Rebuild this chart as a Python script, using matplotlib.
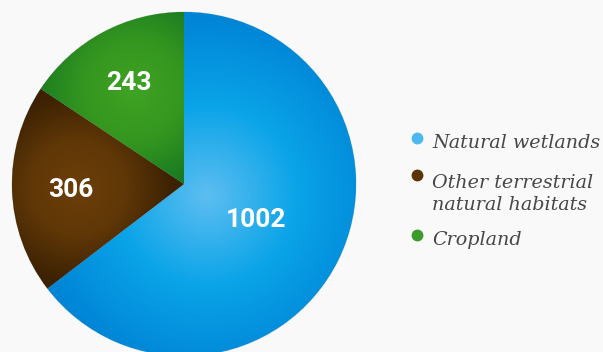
import numpy as np
import matplotlib
matplotlib.use("Agg")
import matplotlib.pyplot as plt
from matplotlib.colors import LinearSegmentedColormap
from matplotlib.lines import Line2D

categories = ["Natural wetlands", "Other terrestrial\nnatural habitats", "Cropland"]
values = [1002, 306, 243]
value_labels = ["1002", "306", "243"]

base_colors = ["#1fa6ea", "#5e3507", "#2f8f22"]
legend_colors = ["#4db8ee", "#5a3306", "#3a9a2a"]
grad_stops = [
    ["#5dbef1", "#0aa4e8", "#0084d6"],
    ["#6c3f08", "#603707", "#3c2203"],
    ["#3fa323", "#34961f", "#177822"],
]
grad_center_r = [0.15, 0.62, 0.62]
grad_radius = [1.05, 0.55, 0.6]
label_r = [0.47, 0.66, 0.68]
label_dy = [0.0, -0.014, -0.012]

fig = plt.figure(figsize=(6.03, 3.52), dpi=100)
fig.patch.set_facecolor("#f8f9f8")

ax = fig.add_axes([12/603, (352-184-172)/352, 344/603, 344/352])
ax.set_facecolor("none")
wedges, _ = ax.pie(values, startangle=90, counterclock=False, radius=1.0,
                   colors=base_colors, wedgeprops=dict(linewidth=0.5, edgecolor="#cccccc"))
ax.set_xlim(-1, 1)
ax.set_ylim(-1, 1)
ax.set_aspect("equal")
ax.axis("off")

n = 400
xs = np.linspace(-1, 1, n)
X, Y = np.meshgrid(xs, xs)
for w, stops, cr, gr, lr, dy, lab in zip(wedges, grad_stops, grad_center_r, grad_radius,
                                         label_r, label_dy, value_labels):
    mid = np.deg2rad((w.theta1 + w.theta2) / 2)
    cx, cy = cr * np.cos(mid), cr * np.sin(mid)
    D = np.sqrt((X - cx) ** 2 + (Y - cy) ** 2) / gr
    D = np.clip(D, 0, 1)
    cmap = LinearSegmentedColormap.from_list("g", stops)
    im = ax.imshow(D, cmap=cmap, extent=[-1, 1, -1, 1], origin="lower", vmin=0, vmax=1,
                   interpolation="bilinear", zorder=w.get_zorder() + 0.1)
    im.set_clip_path(w)
    ax.text(lr * np.cos(mid), lr * np.sin(mid) + dy, lab, ha="center", va="center",
            color="white", fontsize=19, fontweight="bold", family="Roboto", zorder=5)

# manual legend (marker aligned with first line of each entry)
W, H = 603.0, 352.0
marker_y = [138, 175, 235]
line_step = 25
for y, c, t in zip(marker_y, legend_colors, categories):
    fig.add_artist(Line2D([417 / W], [1 - y / H], marker="o", linestyle="none",
                          markersize=7.5, markerfacecolor=c, markeredgecolor=c,
                          transform=fig.transFigure))
    last_baseline = y + 10 + line_step * t.count("\n")
    fig.text(432 / W, 1 - last_baseline / H, t, ha="left", va="baseline", color="#474747",
             family="DejaVu Serif", style="italic", fontsize=13.8, linespacing=1.25)

fig.savefig("out.png", dpi=100, facecolor=fig.get_facecolor())
